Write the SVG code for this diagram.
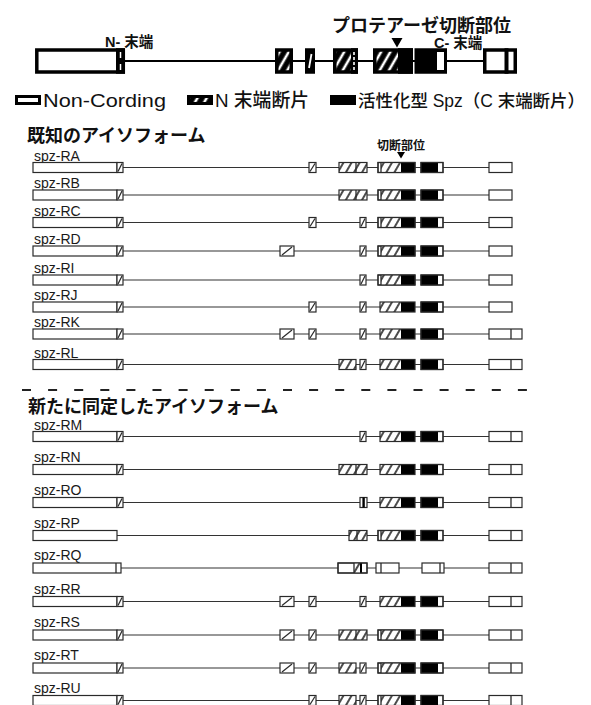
<svg xmlns="http://www.w3.org/2000/svg" xmlns:xlink="http://www.w3.org/1999/xlink" width="591" height="705" viewBox="0 0 591 705">
<style>
text{font-family:"Liberation Sans","Noto Sans CJK JP",sans-serif;fill:#111}
.h1{font-size:18px;font-weight:bold}
.t18{font-size:18px;font-weight:bold}
.t15{font-size:14.5px;font-weight:bold}
.cut{font-size:12px;font-weight:bold}
.lg{font-size:19px;font-weight:500}
.lg2{font-size:17.5px;font-weight:500}
.lbl{font-size:14px;fill:#1a1a1a}
.w{fill:#fff;stroke:#2a2a2a;stroke-width:1.2}
.o{fill:none;stroke:#2a2a2a;stroke-width:1.2}
.h{fill:url(#h);stroke:#2a2a2a;stroke-width:1.2}
.k{fill:#000}
.s{stroke:#2a2a2a;stroke-width:1.3}
.intron{stroke:#333;stroke-width:1.2;fill:none}
.T{stroke:#000;stroke-width:3.5}
</style>
<defs>
<pattern id="h" width="7" height="10" patternUnits="userSpaceOnUse" patternTransform="rotate(30)">
<rect width="7" height="10" fill="#fff"/><line x1="1" y1="0" x2="1" y2="10" stroke="#000" stroke-width="1.4"/>
</pattern>
<pattern id="ht" width="8" height="10" patternUnits="userSpaceOnUse" patternTransform="rotate(30)">
<rect width="8" height="10" fill="#000"/><line x1="4" y1="0" x2="4" y2="10" stroke="#fff" stroke-width="2.6"/>
</pattern>
<g id="first"><rect class="w" x="33" y="-5" width="84" height="10"/><rect class="w" x="117" y="-5" width="6" height="10"/><line class="s" x1="118" y1="4" x2="122" y2="-4"/></g>
<g id="firstP"><rect class="w" x="33" y="-5" width="84" height="10"/></g>
<g id="firstQ"><rect class="w" x="33" y="-5" width="88" height="10"/><line class="s" x1="116" y1="-5" x2="116" y2="5"/></g>
<g id="A"><rect class="w" x="280" y="-5" width="14" height="10"/><line class="s" x1="282" y1="4" x2="292" y2="-4"/></g>
<g id="B"><rect class="w" x="309" y="-5" width="7" height="10"/><line class="s" x1="310" y1="4" x2="315" y2="-4"/></g>
<g id="C"><rect class="h" x="339" y="-5" width="17" height="10"/></g>
<g id="CC"><rect class="h" x="339" y="-5" width="28" height="10"/><line class="s" x1="356" y1="-5" x2="356" y2="5"/></g>
<g id="D"><rect class="w" x="360" y="-5" width="6" height="10"/><line class="s" x1="361" y1="4" x2="365" y2="-4"/></g>
<g id="Do"><rect class="w" x="360" y="-5" width="7" height="10"/><rect class="k" x="362.4" y="-5" width="2.4" height="10"/></g>
<g id="P"><rect class="h" x="349" y="-5" width="18" height="10"/><line class="s" x1="357" y1="-5" x2="357" y2="5"/></g>
<g id="E"><rect fill="url(#h)" x="380" y="-5" width="21" height="10"/><rect class="k" x="401" y="-5" width="14" height="10"/><rect class="o" x="380" y="-5" width="35" height="10"/></g>
<g id="Eb"><rect class="w" x="378" y="-5" width="37" height="10"/><rect fill="url(#h)" x="381" y="-5" width="20" height="10"/><rect class="k" x="401" y="-5" width="14" height="10"/><line class="s" x1="381" y1="-5" x2="381" y2="5"/><rect class="o" x="378" y="-5" width="37" height="10"/></g>
<g id="F"><rect class="w" x="421" y="-5" width="22" height="10"/><rect class="k" x="421" y="-5" width="17" height="10"/><rect class="o" x="421" y="-5" width="22" height="10"/></g>
<g id="Gs"><rect class="w" x="489" y="-5" width="23" height="10"/></g>
<g id="Gl"><rect class="w" x="489" y="-5" width="33" height="10"/><line class="s" x1="511" y1="-5" x2="511" y2="5"/></g>
<g id="Q"><rect class="w" x="338" y="-5" width="29" height="10"/><rect fill="url(#h)" x="354" y="-5" width="6" height="10"/><rect class="k" x="360" y="-5" width="2" height="10"/><line class="s" x1="354" y1="-5" x2="354" y2="5"/><rect class="o" x="338" y="-5" width="29" height="10"/></g>
<g id="Q2"><rect class="w" x="376" y="-5" width="23" height="10"/><line class="s" x1="381" y1="-5" x2="381" y2="5"/></g>
<g id="Q3"><rect class="w" x="422" y="-5" width="22" height="10"/><line class="s" x1="440" y1="-5" x2="440" y2="5"/></g>
</defs>
<rect width="591" height="705" fill="#fff"/>

<g id="connectors">
<line x1="125" y1="61" x2="483" y2="61" stroke="#000" stroke-width="2.2"/>
<line class="intron" x1="123" y1="167.5" x2="489" y2="167.5"/>
<line class="intron" x1="123" y1="195" x2="489" y2="195"/>
<line class="intron" x1="123" y1="222.5" x2="489" y2="222.5"/>
<line class="intron" x1="123" y1="251" x2="489" y2="251"/>
<line class="intron" x1="123" y1="280" x2="489" y2="280"/>
<line class="intron" x1="123" y1="307" x2="489" y2="307"/>
<line class="intron" x1="123" y1="334" x2="489" y2="334"/>
<line class="intron" x1="123" y1="364.5" x2="489" y2="364.5"/>
<line class="intron" x1="123" y1="436.5" x2="489" y2="436.5"/>
<line class="intron" x1="123" y1="469.5" x2="489" y2="469.5"/>
<line class="intron" x1="123" y1="502.5" x2="489" y2="502.5"/>
<line class="intron" x1="117" y1="535.5" x2="489" y2="535.5"/>
<line class="intron" x1="121" y1="568" x2="489" y2="568"/>
<line class="intron" x1="123" y1="601.5" x2="489" y2="601.5"/>
<line class="intron" x1="123" y1="635" x2="489" y2="635"/>
<line class="intron" x1="123" y1="668" x2="489" y2="668"/>
<line class="intron" x1="123" y1="700.5" x2="489" y2="700.5"/>
</g>

<g id="gene-model">
<text class="t18" x="332" y="32">プロテアーゼ切断部位</text>
<text class="t15" x="105" y="47">N- 末端</text>
<text class="t15" x="434" y="48">C- 末端</text>
<polygon points="391.5,38 402.5,38 397,47.5" fill="#000"/>
<rect class="T" x="36.8" y="50" width="86.5" height="22" fill="#fff"/>
<rect x="116" y="48.25" width="9" height="25.5" fill="#000"/>
<path d="M120.5 52v6M120.5 64v6" stroke="#fff" stroke-width="1.5"/>
<rect class="T" x="276.75" y="50" width="14.5" height="22" fill="url(#ht)"/>
<rect class="T" x="306.75" y="50" width="6.5" height="22" fill="#000"/>
<line x1="309" y1="68" x2="311.5" y2="54" stroke="#fff" stroke-width="1.8"/>
<rect class="T" x="334.75" y="50" width="21.5" height="22" fill="url(#ht)"/>
<rect x="351" y="48.25" width="7" height="25.5" fill="#000"/>
<line x1="354" y1="52" x2="354" y2="70" stroke="#fff" stroke-width="1.6" stroke-dasharray="3 2"/>
<rect class="T" x="374.75" y="50" width="36.5" height="22" fill="url(#ht)"/>
<rect x="398" y="48.25" width="15" height="25.5" fill="#000"/>
<rect class="T" x="416.25" y="50" width="29" height="22" fill="#000"/>
<rect x="437" y="52" width="7" height="18" fill="#fff"/>
<rect class="T" x="484.75" y="50" width="30.5" height="22" fill="#fff"/>
<rect x="504.5" y="48.25" width="4" height="25.5" fill="#000"/>
</g>

<g id="legend">
<rect x="16.5" y="96.5" width="23" height="7" fill="#fff" stroke="#000" stroke-width="3"/>
<text class="lg" x="43" y="107" textLength="123" lengthAdjust="spacingAndGlyphs">Non-Cording</text>
<rect x="188.5" y="96.5" width="23" height="7" fill="url(#ht)" stroke="#000" stroke-width="3"/>
<text class="lg" x="215" y="107" textLength="94" lengthAdjust="spacingAndGlyphs">N 末端断片</text>
<rect x="330" y="95" width="26" height="10" fill="#000"/>
<text class="lg2" x="358" y="107" textLength="227" lengthAdjust="spacingAndGlyphs">活性化型 Spz（C 末端断片）</text>
</g>

<g id="known-title">
<text class="h1" x="27" y="142">既知のアイソフォーム</text>
<text class="cut" x="401" y="150" text-anchor="middle">切断部位</text>
<polygon points="397,152 405,152 401,158.5" fill="#000"/>
</g>

<g id="spz-RA" transform="translate(0,167.5)"><text class="lbl" x="34" y="-7">spz-RA</text><use href="#first"/><use href="#B"/><use href="#CC"/><use href="#Eb"/><use href="#F"/><use href="#Gs"/></g>
<g id="spz-RB" transform="translate(0,195)"><text class="lbl" x="34" y="-7">spz-RB</text><use href="#first"/><use href="#CC"/><use href="#Eb"/><use href="#F"/><use href="#Gs"/></g>
<g id="spz-RC" transform="translate(0,222.5)"><text class="lbl" x="34" y="-7">spz-RC</text><use href="#first"/><use href="#B"/><use href="#D"/><use href="#Eb"/><use href="#F"/><use href="#Gs"/></g>
<g id="spz-RD" transform="translate(0,251)"><text class="lbl" x="34" y="-7">spz-RD</text><use href="#first"/><use href="#A"/><use href="#D"/><use href="#Eb"/><use href="#F"/><use href="#Gs"/></g>
<g id="spz-RI" transform="translate(0,280)"><text class="lbl" x="34" y="-7">spz-RI</text><use href="#first"/><use href="#D"/><use href="#Eb"/><use href="#F"/><use href="#Gs"/></g>
<g id="spz-RJ" transform="translate(0,307)"><text class="lbl" x="34" y="-7">spz-RJ</text><use href="#first"/><use href="#B"/><use href="#D"/><use href="#E"/><use href="#F"/><use href="#Gs"/></g>
<g id="spz-RK" transform="translate(0,334)"><text class="lbl" x="34" y="-7">spz-RK</text><use href="#first"/><use href="#A"/><use href="#B"/><use href="#D"/><use href="#E"/><use href="#F"/><use href="#Gl"/></g>
<g id="spz-RL" transform="translate(0,364.5)"><text class="lbl" x="34" y="-7">spz-RL</text><use href="#first"/><use href="#C"/><use href="#D"/><use href="#E"/><use href="#F"/><use href="#Gl"/></g>

<line id="separator" x1="22" y1="390" x2="527" y2="390" stroke="#222" stroke-width="2.2" stroke-dasharray="9 17.1"/>

<g id="new-title"><text class="h1" x="28" y="413">新たに同定したアイソフォーム</text></g>

<g id="spz-RM" transform="translate(0,436.5)"><text class="lbl" x="34" y="-7">spz-RM</text><use href="#first"/><use href="#D"/><use href="#E"/><use href="#F"/><use href="#Gl"/></g>
<g id="spz-RN" transform="translate(0,469.5)"><text class="lbl" x="34" y="-8">spz-RN</text><use href="#first"/><use href="#CC"/><use href="#E"/><use href="#F"/><use href="#Gl"/></g>
<g id="spz-RO" transform="translate(0,502.5)"><text class="lbl" x="34" y="-8">spz-RO</text><use href="#first"/><use href="#Do"/><use href="#E"/><use href="#F"/><use href="#Gl"/></g>
<g id="spz-RP" transform="translate(0,535.5)"><text class="lbl" x="34" y="-8">spz-RP</text><use href="#firstP"/><use href="#P"/><use href="#Eb"/><use href="#F"/><use href="#Gl"/></g>
<g id="spz-RQ" transform="translate(0,568)"><text class="lbl" x="34" y="-8">spz-RQ</text><use href="#firstQ"/><use href="#Q"/><use href="#Q2"/><use href="#Q3"/><use href="#Gl"/></g>
<g id="spz-RR" transform="translate(0,601.5)"><text class="lbl" x="34" y="-8">spz-RR</text><use href="#first"/><use href="#A"/><use href="#B"/><use href="#D"/><use href="#E"/><use href="#F"/><use href="#Gl"/></g>
<g id="spz-RS" transform="translate(0,635)"><text class="lbl" x="34" y="-8">spz-RS</text><use href="#first"/><use href="#A"/><use href="#B"/><use href="#CC"/><use href="#Eb"/><use href="#F"/><use href="#Gl"/></g>
<g id="spz-RT" transform="translate(0,668)"><text class="lbl" x="34" y="-8">spz-RT</text><use href="#first"/><use href="#A"/><use href="#B"/><use href="#C"/><use href="#D"/><use href="#Eb"/><use href="#F"/><use href="#Gl"/></g>
<g id="spz-RU" transform="translate(0,700.5)"><text class="lbl" x="34" y="-8">spz-RU</text><use href="#first"/><use href="#B"/><use href="#C"/><use href="#D"/><use href="#Eb"/><use href="#F"/><use href="#Gl"/></g>
</svg>
